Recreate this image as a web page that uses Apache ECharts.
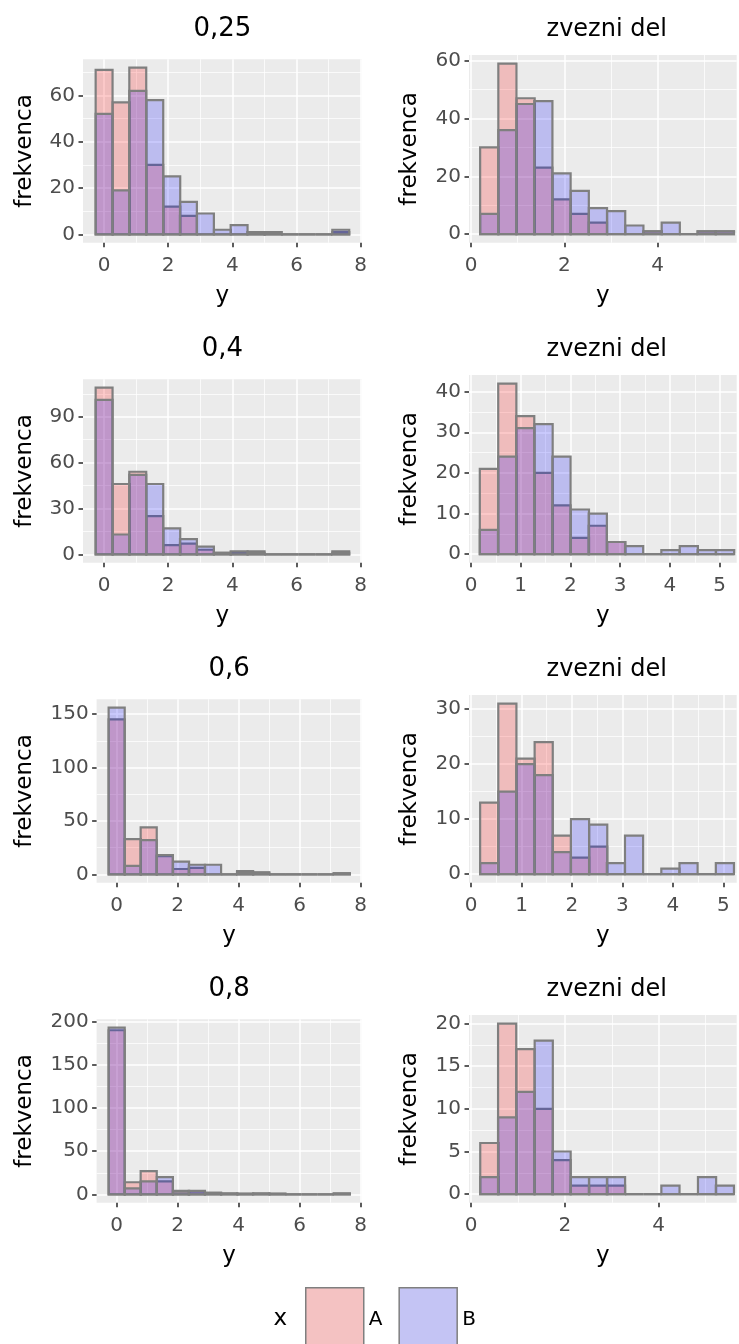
<!DOCTYPE html>
<html>
<head>
<meta charset="utf-8">
<script src="https://cdn.jsdelivr.net/npm/echarts@6/dist/echarts.min.js"></script>
<style>
html, body { margin: 0; padding: 0; background: #fff; }
#main { width: 739px; height: 1344px; }
</style>
</head>
<body>
<div id="main"></div>
<script>
// podatki (odčitani s slike)
var panelTitles = ['0,25', 'zvezni del', '0,4', 'zvezni del', '0,6', 'zvezni del', '0,8', 'zvezni del'];

// sredine razredov
var binsMixed = [0, 0.53, 1.05, 1.58, 2.11, 2.63, 3.16, 3.69, 4.21, 4.74, 5.27, 5.79, 6.32, 6.85, 7.38];
var bins025c = [0.39, 0.78, 1.17, 1.55, 1.94, 2.33, 2.72, 3.11, 3.50, 3.89, 4.28, 4.66, 5.05, 5.44];
var bins04c = [0.36, 0.73, 1.09, 1.46, 1.82, 2.19, 2.55, 2.92, 3.28, 3.65, 4.01, 4.38, 4.74, 5.11];
var bins06c = [0.36, 0.72, 1.08, 1.44, 1.80, 2.16, 2.52, 2.87, 3.23, 3.59, 3.95, 4.31, 4.67, 5.03];
var bins08c = [0.39, 0.77, 1.16, 1.55, 1.93, 2.32, 2.71, 3.09, 3.48, 3.87, 4.25, 4.64, 5.03, 5.41];
var widthMixed = 0.527, width025c = 0.389, width04c = 0.365, width06c = 0.359, width08c = 0.387;

// frekvence A in B
var a025 = [71, 57, 72, 30, 12, 8, 0, 0, 0, 1, 1, 0, 0, 0, 1];
var b025 = [52, 19, 62, 58, 25, 14, 9, 2, 4, 1, 1, 0, 0, 0, 2];
var a025c = [30, 59, 47, 23, 12, 7, 4, 0, 0, 1, 0, 0, 1, 1];
var b025c = [7, 36, 45, 46, 21, 15, 9, 8, 3, 1, 4, 0, 1, 1];
var a04 = [109, 46, 54, 25, 6, 7, 3, 1, 1, 2, 0, 0, 0, 0, 2];
var b04 = [101, 13, 52, 46, 17, 10, 5, 1, 2, 1, 0, 0, 0, 0, 1];
var a04c = [21, 42, 34, 20, 12, 4, 7, 3, 0, 0, 0, 0, 0, 0];
var b04c = [6, 24, 31, 32, 24, 11, 10, 3, 2, 0, 1, 2, 1, 1];
var a06 = [145, 33, 44, 17, 5, 6, 0, 0, 3, 2, 0, 0, 0, 0, 1];
var b06 = [156, 8, 32, 18, 12, 9, 9, 0, 2, 1, 0, 0, 0, 0, 1];
var a06c = [13, 31, 21, 24, 7, 3, 5, 0, 0, 0, 0, 0, 0, 0];
var b06c = [2, 15, 20, 18, 4, 10, 9, 2, 7, 0, 1, 2, 0, 2];
var a08 = [190, 14, 27, 15, 4, 3, 2, 1, 0, 1, 1, 0, 0, 0, 1];
var b08 = [193, 7, 15, 20, 3, 4, 1, 1, 1, 1, 0, 0, 0, 0, 1];
var a08c = [6, 20, 17, 10, 4, 1, 1, 1, 0, 0, 0, 0, 0, 0];
var b08c = [2, 9, 12, 18, 5, 2, 2, 2, 0, 0, 1, 0, 2, 1];

// oznake osi
var xTicksMixed = [0, 2, 4, 6, 8], xMinorMixed = [1, 3, 5, 7];
var xTicksWide = [0, 2, 4], xMinorWide = [1, 3, 5];
var xTicksUnit = [0, 1, 2, 3, 4, 5], xMinorUnit = [0.5, 1.5, 2.5, 3.5, 4.5];
var yTicks025 = [0, 20, 40, 60], yMinor025 = [10, 30, 50, 70];
var yTicks025c = [0, 20, 40, 60], yMinor025c = [10, 30, 50];
var yTicks04 = [0, 30, 60, 90], yMinor04 = [15, 45, 75, 105];
var yTicks04c = [0, 10, 20, 30, 40], yMinor04c = [5, 15, 25, 35];
var yTicks06 = [0, 50, 100, 150], yMinor06 = [25, 75, 125];
var yTicks06c = [0, 10, 20, 30], yMinor06c = [5, 15, 25];
var yTicks08 = [0, 50, 100, 150, 200], yMinor08 = [25, 75, 125, 175];
var yTicks08c = [0, 5, 10, 15, 20], yMinor08c = [2.5, 7.5, 12.5, 17.5];

var FONT = 'DejaVu Sans';
var FILL_A = 'rgba(255,0,0,0.2)';
var FILL_B = 'rgba(0,0,255,0.2)';

var panels = [
	{bins: binsMixed, w: widthMixed, a: a025, b: b025, xr: [-0.658, 8.033], xt: xTicksMixed, xm: xMinorMixed, yt: yTicks025, ym: yMinor025},
	{bins: bins025c, w: width025c, a: a025c, b: b025c, xr: [-0.043, 5.693], xt: xTicksWide, xm: xMinorWide, yt: yTicks025c, ym: yMinor025c},
	{bins: binsMixed, w: widthMixed, a: a04, b: b04, xr: [-0.658, 8.033], xt: xTicksMixed, xm: xMinorMixed, yt: yTicks04, ym: yMinor04},
	{bins: bins04c, w: width04c, a: a04c, b: b04c, xr: [-0.04, 5.343], xt: xTicksUnit, xm: xMinorUnit, yt: yTicks04c, ym: yMinor04c},
	{bins: binsMixed, w: widthMixed, a: a06, b: b06, xr: [-0.658, 8.033], xt: xTicksMixed, xm: xMinorMixed, yt: yTicks06, ym: yMinor06},
	{bins: bins06c, w: width06c, a: a06c, b: b06c, xr: [-0.04, 5.264], xt: xTicksUnit, xm: xMinorUnit, yt: yTicks06c, ym: yMinor06c},
	{bins: binsMixed, w: widthMixed, a: a08, b: b08, xr: [-0.658, 8.033], xt: xTicksMixed, xm: xMinorMixed, yt: yTicks08, ym: yMinor08},
	{bins: bins08c, w: width08c, a: a08c, b: b08c, xr: [-0.043, 5.662], xt: xTicksWide, xm: xMinorWide, yt: yTicks08c, ym: yMinor08c}
];

function barRenderer(width, fill) {
	return function (params, api) {
		var x = api.value(0), n = api.value(1);
		var tl = api.coord([x - width / 2, n]);
		var br = api.coord([x + width / 2, 0]);
		return {
			type: 'rect',
			shape: {x: tl[0], y: tl[1], width: br[0] - tl[0], height: br[1] - tl[1]},
			style: {fill: fill, stroke: '#7F7F7F', lineWidth: 2.2}
		};
	};
}

var grids = [], xMain = [], yMain = [], xMinor = [], yMinor = [], series = [], titles = [];

panels.forEach(function (p, i) {
	var row = Math.floor(i / 2), col = i % 2;
	var oy = row * 320;
	var left, width, top, height, yGap;
	if (col === 0) {
		left = row < 2 ? 83 : 96.6;
		width = 361.7 - left;
		top = oy + 59.3;
		height = 183.4;
		yGap = row < 2 ? 57.7 : 71.3;
	} else {
		left = 469;
		width = 267.7;
		top = oy + 55;
		height = 187.7;
		yGap = 58.7;
	}
	grids.push({left: left, top: top, width: width, height: height, show: true,
		backgroundColor: '#EBEBEB', borderWidth: 0, containLabel: false});

	var m = Math.max(Math.max.apply(null, p.a), Math.max.apply(null, p.b));
	var ymin = -0.05 * m, ymax = 1.05 * m;

	xMain.push({
		type: 'value', gridIndex: i, min: p.xr[0], max: p.xr[1], position: 'bottom',
		axisLine: {show: false, onZero: false},
		axisTick: {show: true, length: 4.5, customValues: p.xt, lineStyle: {color: '#333333', width: 1.6}},
		axisLabel: {customValues: p.xt, margin: 13, color: '#4D4D4D', fontSize: 20, fontFamily: FONT},
		splitLine: {show: true, lineStyle: {color: '#FFFFFF', width: 1.5}},
		name: 'y', nameLocation: 'middle', nameGap: 53.3,
		nameTextStyle: {fontSize: 23, color: '#000', fontFamily: FONT, verticalAlign: 'middle'}
	});
	yMain.push({
		type: 'value', gridIndex: i, min: ymin, max: ymax, position: 'left',
		axisLine: {show: false, onZero: false},
		axisTick: {show: true, length: 4.5, customValues: p.yt, lineStyle: {color: '#333333', width: 1.6}},
		axisLabel: {customValues: p.yt, margin: 8, color: '#4D4D4D', fontSize: 20, fontFamily: FONT},
		splitLine: {show: true, lineStyle: {color: '#FFFFFF', width: 1.5}},
		name: 'frekvenca', nameLocation: 'middle', nameRotate: 90, nameGap: yGap,
		nameTextStyle: {fontSize: 23, color: '#000', fontFamily: FONT, verticalAlign: 'middle'}
	});
	xMinor.push({
		type: 'value', gridIndex: i, min: p.xr[0], max: p.xr[1], position: 'bottom',
		axisLine: {show: false, onZero: false}, axisLabel: {show: false},
		axisTick: {show: false, customValues: p.xm},
		splitLine: {show: true, lineStyle: {color: '#FFFFFF', width: 0.75}}
	});
	yMinor.push({
		type: 'value', gridIndex: i, min: ymin, max: ymax, position: 'left',
		axisLine: {show: false, onZero: false}, axisLabel: {show: false},
		axisTick: {show: false, customValues: p.ym},
		splitLine: {show: true, lineStyle: {color: '#FFFFFF', width: 0.75}}
	});

	[['A', p.a, FILL_A], ['B', p.b, FILL_B]].forEach(function (s) {
		series.push({
			type: 'custom', name: s[0], xAxisIndex: i, yAxisIndex: i,
			renderItem: barRenderer(p.w, s[2]),
			itemStyle: {color: s[2]},
			encode: {x: 0, y: 1},
			silent: true, clip: false,
			data: s[1].map(function (v, k) { return [p.bins[k], v]; })
		});
	});

	var cx = col === 0 ? left + width / 2 : 606.7;
	titles.push({
		text: panelTitles[i], left: cx, top: oy + (col === 0 ? 28.9 : 29.9),
		textAlign: 'center', textVerticalAlign: 'middle', padding: 0,
		textStyle: {fontSize: col === 0 ? 26 : 24, fontWeight: 'normal', color: '#000', fontFamily: FONT}
	});
});

titles.push({
	text: 'x', left: 280.3, top: 1318.8, textAlign: 'center', textVerticalAlign: 'middle', padding: 0,
	textStyle: {fontSize: 23, fontWeight: 'normal', color: '#000', fontFamily: FONT}
});

var myChart = echarts.init(document.getElementById('main'));
var option = {
	backgroundColor: '#FFFFFF',
	animation: false,
	title: titles,
	grid: grids,
	xAxis: xMain.concat(xMinor),
	yAxis: yMain.concat(yMinor),
	legend: {
		left: 305, top: 1287, padding: 0, orient: 'horizontal',
		itemWidth: 58, itemHeight: 64, itemGap: 16, icon: 'rect', selectedMode: false,
		textStyle: {fontSize: 20, color: '#000', fontFamily: FONT},
		data: [
			{name: 'A', itemStyle: {color: '#F4C2C2', borderColor: '#7F7F7F', borderWidth: 1.5}},
			{name: 'B', itemStyle: {color: '#C4C4F4', borderColor: '#7F7F7F', borderWidth: 1.5}}
		]
	},
	series: series
};
myChart.setOption(option);

window.addEventListener('resize', function () {
	myChart.resize();
});
</script>
</body>
</html>
